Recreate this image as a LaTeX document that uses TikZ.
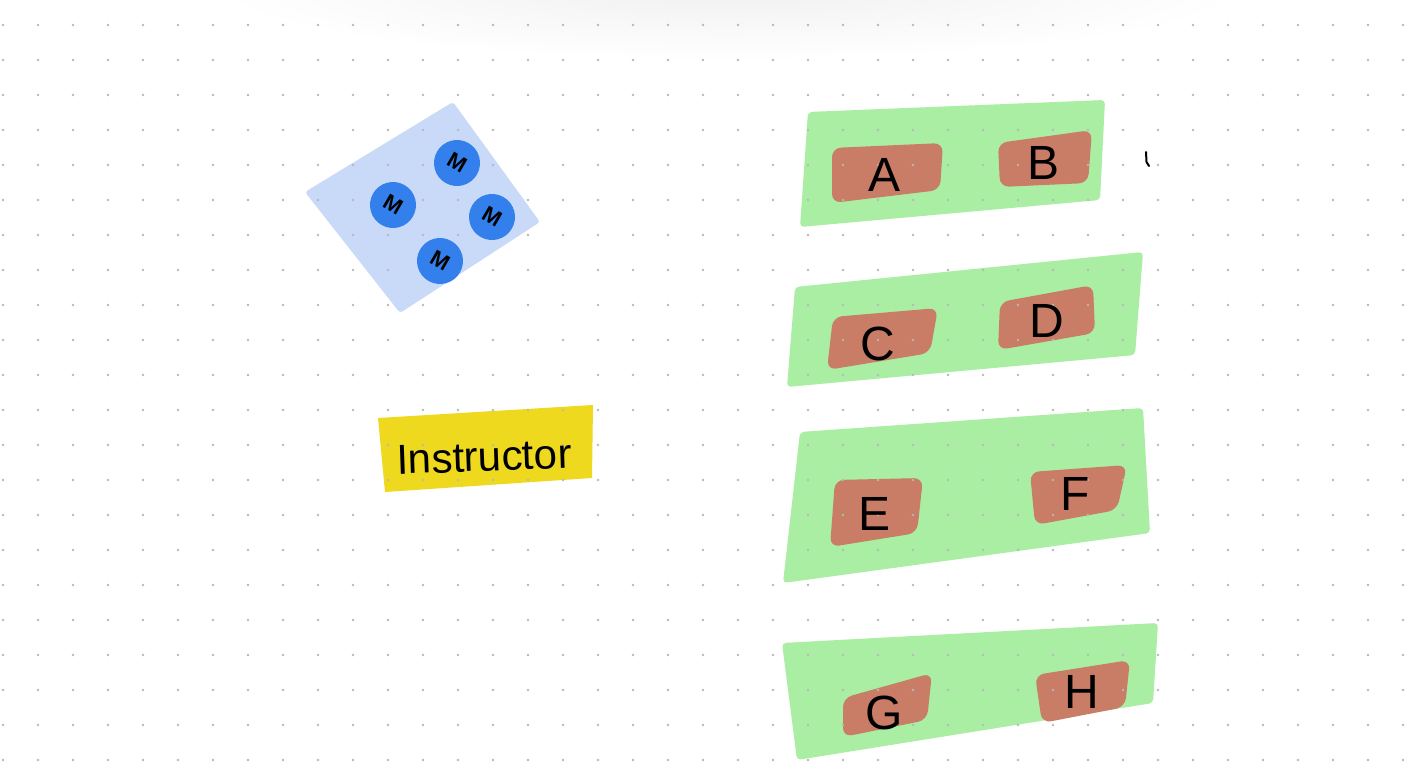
\documentclass[tikz,border=0pt]{standalone}
\usepackage{fontspec}
\setmainfont{Liberation Sans}
\usetikzlibrary{positioning}
\definecolor{podblue}{HTML}{C8DAF8}
\definecolor{mentorblue}{HTML}{3380EC}
\definecolor{tablegreen}{HTML}{A9EEA3}
\definecolor{seatbrown}{HTML}{C97C66}
\definecolor{stickyyellow}{HTML}{EFD91E}

\begin{document}
\begin{tikzpicture}[x=1pt,y=-1pt,
		table/.style={fill=tablegreen,rounded corners=4pt},
		seat/.style={fill=seatbrown,rounded corners=9pt},
		letter/.style={font=\fontsize{48}{48}\selectfont},
		mentor/.style={circle,fill=mentorblue,minimum size=46pt,inner sep=0pt,font=\fontsize{22}{22}\selectfont\bfseries,rotate=-30}]
	\useasboundingbox[fill=white] (0,0) rectangle (1426,776);
	\shade[inner color=black!6,outer color=white] (730,-15) ellipse (520 and 75);

	\fill[podblue,rounded corners=3pt] (305,192) -- (453,102) -- (540,222) -- (400,313) -- cycle;
	\fill[stickyyellow] (378,418) -- (593,405) -- (592,478) -- (385,492) -- cycle;

	\fill[table] (808,112) -- (1105,100) -- (1100,200) -- (800,227) -- cycle;
	\fill[table] (795,287) -- (1143,252) -- (1135,355) -- (787,387) -- cycle;
	\fill[table] (800,432) -- (1143,408) -- (1150,533) -- (783,583) -- cycle;
	\fill[table] (782,643) -- (1158,623) -- (1153,703) -- (797,760) -- cycle;

	\fill[seat] (832,148) -- (943,143) -- (940,190) -- (832,203) -- cycle;
	\fill[seat] (998,143) -- (1092,130) -- (1088,183) -- (1000,187) -- cycle;
	\fill[seat] (833,317) -- (938,308) -- (930,353) -- (827,370) -- cycle;
	\fill[seat] (1000,302) -- (1093,285) -- (1095,333) -- (998,350) -- cycle;
	\fill[seat] (835,480) -- (923,478) -- (917,533) -- (830,547) -- cycle;
	\fill[seat] (1030,472) -- (1127,465) -- (1117,510) -- (1035,525) -- cycle;
	\fill[seat] (843,698) -- (932,673) -- (927,720) -- (843,737) -- cycle;
	\fill[seat] (1035,675) -- (1130,660) -- (1125,707) -- (1042,723) -- cycle;

	\foreach \i in {0,...,40}
		\foreach \j in {0,...,21}
			\fill[black!28] ({3+35*\i},{25+35*\j}) circle (1.4);

	\node[mentor] (m1) at (393,205) {M};
	\node[mentor] (m2) at (457,163) {M};
	\node[mentor] (m3) at (492,217) {M};
	\node[mentor] (m4) at (440,261) {M};

	\node[font=\fontsize{42}{42}\selectfont,rotate=2] (instructor) at (484,457) {Instructor};

	\node[letter] (a) at (884,175) {A};
	\node[letter] (b) at (1043,163) {B};
	\node[letter] (c) at (878,344) {C};
	\node[letter] (d) at (1047,321) {D};
	\node[letter] (e) at (874,514) {E};
	\node[letter] (f) at (1075,494) {F};
	\node[letter] (g) at (884,713) {G};
	\node[letter] (h) at (1082,692) {H};

	\draw[line width=2pt,line cap=round] (1146,152) -- (1146.5,162) -- (1149,166);
\end{tikzpicture}
\end{document}
